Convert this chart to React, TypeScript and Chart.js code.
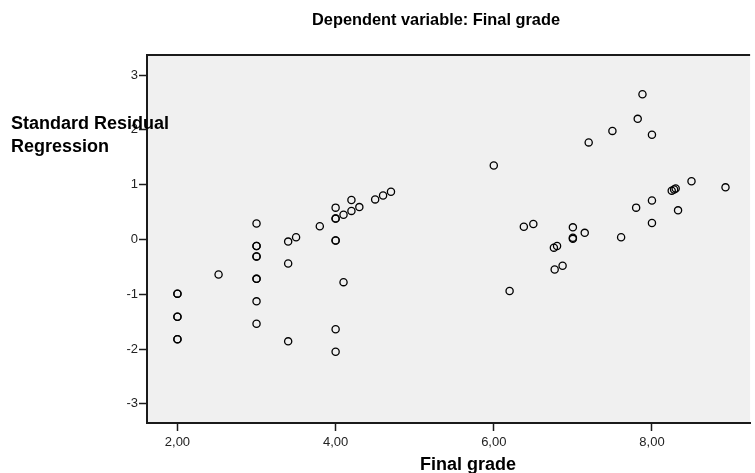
import React, { useEffect, useRef } from "react";
import { Chart, registerables } from "chart.js";

Chart.register(...registerables);

const chartTitle = "Dependent variable: Final grade";
const xAxisTitle = "Final grade";
const yAxisTitleLines = ["Standard Residual", "Regression"];

const xTickValues = [2, 4, 6, 8];
const xTickLabels = ["2,00", "4,00", "6,00", "8,00"];
const yTickValues = [-3, -2, -1, 0, 1, 2, 3];
const yTickLabels = ["-3", "-2", "-1", "0", "1", "2", "3"];

// Final grade (x) and standardized residual (y); repeated pairs are overlapping cases
const finalGrade = [
  2, 2, 2, 2, 2, 2,
  2.52,
  3, 3, 3, 3, 3, 3, 3, 3, 3,
  3.4, 3.4, 3.4,
  3.5, 3.8,
  4, 4, 4, 4, 4, 4, 4,
  4.1, 4.1, 4.2, 4.2, 4.3, 4.5, 4.6, 4.7,
  6.0, 6.2, 6.38, 6.5, 6.76, 6.8, 6.77, 6.87,
  7.0, 7.0, 7.0, 7.15, 7.2, 7.5, 7.61, 7.8, 7.82, 7.88,
  8.0, 8.0, 8.0, 8.25, 8.28, 8.3, 8.33, 8.5, 8.93,
];
const stdResidual = [
  -0.99, -0.99, -1.41, -1.41, -1.82, -1.82,
  -0.64,
  0.29, -0.12, -0.12, -0.31, -0.31, -0.72, -0.72, -1.13, -1.54,
  -0.04, -0.44, -1.86,
  0.04, 0.24,
  0.58, 0.38, 0.38, -0.02, -0.02, -1.64, -2.05,
  0.45, -0.78, 0.72, 0.52, 0.59, 0.73, 0.8, 0.87,
  1.35, -0.94, 0.23, 0.28, -0.15, -0.12, -0.55, -0.48,
  0.22, 0.03, 0.01, 0.12, 1.77, 1.98, 0.04, 0.58, 2.2, 2.65,
  1.91, 0.71, 0.3, 0.89, 0.91, 0.93, 0.53, 1.06, 0.95,
];

const FONT = "'Liberation Sans', Arial, Helvetica, sans-serif";

export default function App() {
  const canvasRef = useRef<HTMLCanvasElement | null>(null);

  useEffect(() => {
    if (!canvasRef.current) return;
    const points = finalGrade.map((x, i) => ({ x, y: stdResidual[i] }));

    const decorPlugin = {
      id: "decor",
      beforeDraw(chart: any) {
        const { ctx, chartArea } = chart;
        ctx.save();
        ctx.fillStyle = "#f0f0f0";
        ctx.fillRect(chartArea.left, chartArea.top, chartArea.right - chartArea.left, chartArea.bottom - chartArea.top);
        ctx.restore();
      },
      afterDraw(chart: any) {
        const { ctx, chartArea } = chart;
        ctx.save();
        ctx.strokeStyle = "#1a1a1a";
        ctx.lineWidth = 2;
        ctx.beginPath();
        ctx.moveTo(chartArea.left - 1, chartArea.top);
        ctx.lineTo(chartArea.right, chartArea.top);
        ctx.stroke();

        ctx.fillStyle = "#000";
        ctx.textBaseline = "alphabetic";
        ctx.textAlign = "center";
        ctx.font = `bold 17px ${FONT}`;
        ctx.fillText(chartTitle, 436, 25, 248);
        ctx.font = `bold 18px ${FONT}`;
        ctx.fillText(xAxisTitle, 468, 470);
        ctx.textAlign = "left";
        ctx.fillText(yAxisTitleLines[0], 11, 129);
        ctx.fillText(yAxisTitleLines[1], 11, 152);
        ctx.restore();
      },
    };

    const chart = new Chart(canvasRef.current, {
      type: "scatter",
      data: {
        datasets: [
          {
            data: points,
            pointStyle: "circle",
            pointRadius: 3.6,
            pointBorderWidth: 1.3,
            pointBorderColor: "#000",
            pointBackgroundColor: "rgba(0,0,0,0)",
            pointHoverRadius: 3.6,
          },
        ],
      },
      options: {
        responsive: false,
        animation: false,
        devicePixelRatio: 1,
        layout: { padding: { top: 55, left: 0, right: 0, bottom: 0 } },
        plugins: {
          legend: { display: false },
          tooltip: { enabled: false },
          title: { display: false },
        },
        scales: {
          x: {
            type: "linear",
            min: 1.615,
            max: 9.241,
            afterFit: (s: any) => {
              s.height = 50;
            },
            afterBuildTicks: (s: any) => {
              s.ticks = xTickValues.map((v) => ({ value: v }));
            },
            ticks: {
              callback: (v: any) => xTickLabels[xTickValues.indexOf(Number(v))] ?? "",
              color: "#222",
              font: { family: FONT, size: 13 },
              padding: 4,
              maxRotation: 0,
            },
            grid: {
              drawOnChartArea: false,
              drawTicks: true,
              tickLength: 8,
              tickColor: "#1a1a1a",
              tickWidth: 1.5,
            },
            border: { display: true, color: "#1a1a1a", width: 2 },
          },
          y: {
            type: "linear",
            min: -3.35,
            max: 3.365,
            afterFit: (s: any) => {
              s.width = 147;
            },
            afterBuildTicks: (s: any) => {
              s.ticks = yTickValues.map((v) => ({ value: v }));
            },
            ticks: {
              callback: (v: any) => yTickLabels[yTickValues.indexOf(Number(v))] ?? "",
              color: "#222",
              font: { family: FONT, size: 13 },
              padding: 1,
            },
            grid: {
              drawOnChartArea: false,
              drawTicks: true,
              tickLength: 8,
              tickColor: "#1a1a1a",
              tickWidth: 1.5,
            },
            border: { display: true, color: "#1a1a1a", width: 2 },
          },
        },
      },
      plugins: [decorPlugin],
    });
    return () => chart.destroy();
  }, []);

  return (
    <div style={{ position: "absolute", left: 0, top: 0, width: 755, height: 473, background: "#fff" }}>
      <canvas ref={canvasRef} width={755} height={473} style={{ display: "block" }} />
    </div>
  );
}
